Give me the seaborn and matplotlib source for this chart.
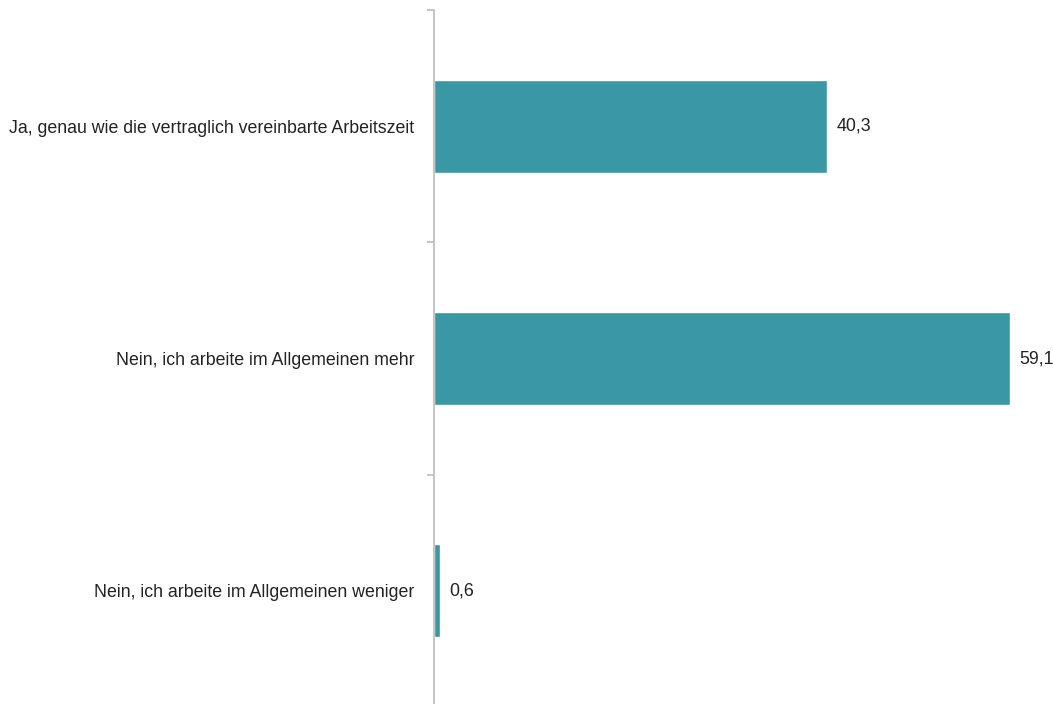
import matplotlib
matplotlib.use("Agg")
import matplotlib.pyplot as plt
from matplotlib import font_manager
import seaborn as sns
import pandas as pd

# Data
categories = [
    "Ja, genau wie die vertraglich vereinbarte Arbeitszeit",
    "Nein, ich arbeite im Allgemeinen mehr",
    "Nein, ich arbeite im Allgemeinen weniger",
]
values = [40.3, 59.1, 0.6]

df = pd.DataFrame({"Kategorie": categories, "Anteil": values})

sns.set_style("white")
names = {f.name for f in font_manager.fontManager.ttflist}
family = "Liberation Sans Narrow" if "Liberation Sans Narrow" in names else "Liberation Sans"
plt.rcParams["font.family"] = [family, "DejaVu Sans"]

fig = plt.figure(figsize=(10.53, 7.04), dpi=100)
ax = fig.add_axes([434 / 1053, -3 / 704, 609 / 1053, 697 / 704])

sns.barplot(data=df, x="Anteil", y="Kategorie", orient="h", color="#3A97A4",
            saturation=1, width=0.4, ax=ax)

ax.set_xlim(0, 62.5)
ax.set_ylim(2.5, -0.5)
ax.set_xlabel("")
ax.set_ylabel("")
ax.set_xticks([])

for s in ["top", "right", "bottom"]:
    ax.spines[s].set_visible(False)
ax.spines["left"].set_color("#BBBBBB")
ax.spines["left"].set_linewidth(1.2)

ax.tick_params(axis="y", which="major", length=0, pad=14, labelsize=12.8, labelcolor="#222222")
ax.set_yticks([-0.5, 0.5, 1.5, 2.5], minor=True)
ax.tick_params(axis="y", which="minor", left=True, length=5, color="#BBBBBB", width=1.2)

for cont in ax.containers:
    ax.bar_label(cont, labels=[f"{v:.1f}".replace(".", ",") for v in values],
                 padding=7, fontsize=12.8, color="#222222")

fig.savefig("out.png", dpi=100)
